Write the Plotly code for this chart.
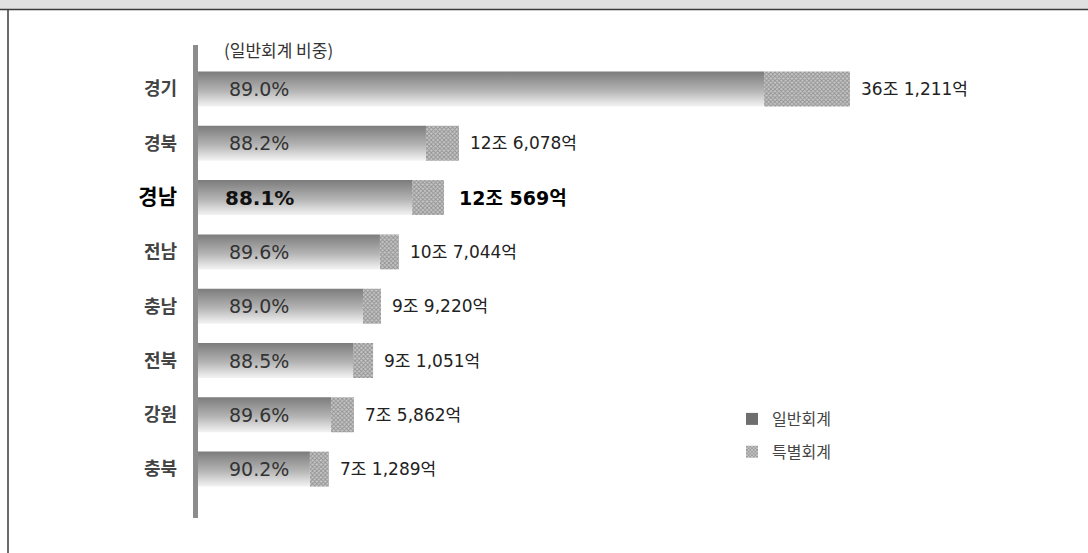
import plotly.graph_objects as go

# ---------------- data ----------------
regions = ["경기", "경북", "경남", "전남", "충남", "전북", "강원", "충북"]
general_share = ["89.0%", "88.2%", "88.1%", "89.6%", "89.0%", "88.5%", "89.6%", "90.2%"]
total_labels = ["36조 1,211억", "12조 6,078억", "12조 569억", "10조 7,044억",
                "9조 9,220억", "9조 1,051억", "7조 5,862억", "7조 1,289억"]
# bar lengths as drawn in the picture (조 scale of the drawing)
general_len = [31.36, 12.63, 11.86, 10.08, 9.14, 8.59, 7.37, 6.20]
special_len = [4.76, 1.83, 1.77, 1.05, 1.00, 1.11, 1.27, 1.05]
highlight = "경남"
legend_names = ["일반회계", "특별회계"]
subtitle = "(일반회계 비중)"

# ---------------- layout constants ----------------
W, H = 1088, 553
X0_PX = 198            # pixel where value 0 sits
PX_PER_UNIT = 18.05
HALF = 0.322           # half bar thickness in category units
KR = "Noto Sans CJK KR"
NUM = "DejaVu Sans, Noto Sans CJK KR"

def px(xp):
    return xp / W

def py(yp):
    return 1 - yp / H

idx = list(range(len(regions)))
fig = go.Figure()

# legend proxies
fig.add_trace(go.Bar(x=[None], y=[None], orientation="h", name=legend_names[0],
                     marker=dict(color="#6e6e6e", line=dict(width=0)),
                     legendgroup="g", showlegend=True, hoverinfo="skip"))

# general-account bars with vertical gradient (dark on top, light at bottom)
for i, g in zip(idx, general_len):
    fig.add_trace(go.Scatter(
        x=[0, g, g, 0, 0],
        y=[i - HALF, i - HALF, i + HALF, i + HALF, i - HALF],
        mode="lines", line=dict(width=0), fill="toself",
        fillgradient=dict(type="vertical",
                          colorscale=[[0, "#f3f3f3"], [0.1, "#e6e6e6"],
                                      [0.45, "#b4b4b4"], [1, "#7c7c7c"]]),
        showlegend=False, hoverinfo="skip"))

# special-account bars (patterned)
fig.add_trace(go.Bar(
    y=idx, x=special_len, base=general_len, orientation="h", width=2 * HALF,
    name=legend_names[1], legendgroup="s",
    marker=dict(color="#c6c6c6", line=dict(width=0),
                pattern=dict(shape="x", size=3, solidity=0.5,
                             fgcolor="#5c5c5c", bgcolor="#c6c6c6")),
    hoverinfo="skip"))

annotations = []
for i, r in enumerate(regions):
    bold = r == highlight
    annotations.append(dict(
        x=3.4, y=i, xref="x", yref="y", xanchor="center", yanchor="middle",
        text=("<b>%s</b>" % general_share[i]) if bold else general_share[i],
        showarrow=False,
        font=dict(family=NUM, size=20 if bold else 19, color="#111" if bold else "#333")))
    annotations.append(dict(
        x=general_len[i] + special_len[i], y=i, xref="x", yref="y",
        xanchor="left", yanchor="middle", xshift=9 if not bold else 13,
        text=("<b>%s</b>" % total_labels[i]) if bold else total_labels[i],
        showarrow=False,
        font=dict(family=NUM, size=19 if bold else 17, color="#000" if bold else "#222")))

annotations.append(dict(x=px(222), y=py(49), xref="paper", yref="paper",
                        xanchor="left", yanchor="middle", text=subtitle, showarrow=False,
                        font=dict(family=KR, size=17, color="#333")))

ticktext = []
for r in regions:
    if r == highlight:
        ticktext.append('<b><span style="font-size:21px;color:#000">%s</span></b>' % r)
    else:
        ticktext.append("<b>%s</b>" % r)

shapes = [
    dict(type="rect", xref="paper", yref="paper", x0=0, x1=1, y0=py(9), y1=1,
         fillcolor="#e0e0e0", line=dict(width=0), layer="below"),
    dict(type="line", xref="paper", yref="paper", x0=0, x1=1, y0=py(9.5), y1=py(9.5),
         line=dict(color="#3a3a3a", width=1.5)),
    dict(type="line", xref="paper", yref="paper", x0=px(8), x1=px(8), y0=py(9.5), y1=0,
         line=dict(color="#3a3a3a", width=1.5)),
    dict(type="line", xref="paper", yref="paper", x0=px(195.5), x1=px(195.5),
         y0=py(45), y1=py(518), line=dict(color="#8c8c8c", width=5)),
]

fig.update_layout(
    width=W, height=H, margin=dict(l=0, r=0, t=0, b=0),
    paper_bgcolor="white", plot_bgcolor="white",
    barmode="overlay",
    xaxis=dict(domain=[px(X0_PX), 1], range=[0, (W - X0_PX) / PX_PER_UNIT],
               visible=False, fixedrange=True),
    yaxis=dict(range=[8.545, -1.639], tickvals=idx, ticktext=ticktext,
               showgrid=False, zeroline=False, showline=False, ticks="",
               ticklabelstandoff=20,
               tickfont=dict(family=KR, size=18, color="#444"), fixedrange=True),
    showlegend=True,
    legend=dict(x=px(732), y=py(402), xanchor="left", yanchor="top",
                traceorder="grouped", tracegroupgap=9,
                font=dict(family=KR, size=16, color="#444"),
                bgcolor="rgba(0,0,0,0)", borderwidth=0),
    annotations=annotations, shapes=shapes,
)

fig.write_html("out.html", config={"displayModeBar": False},
               post_script="document.body.style.margin='0';")
